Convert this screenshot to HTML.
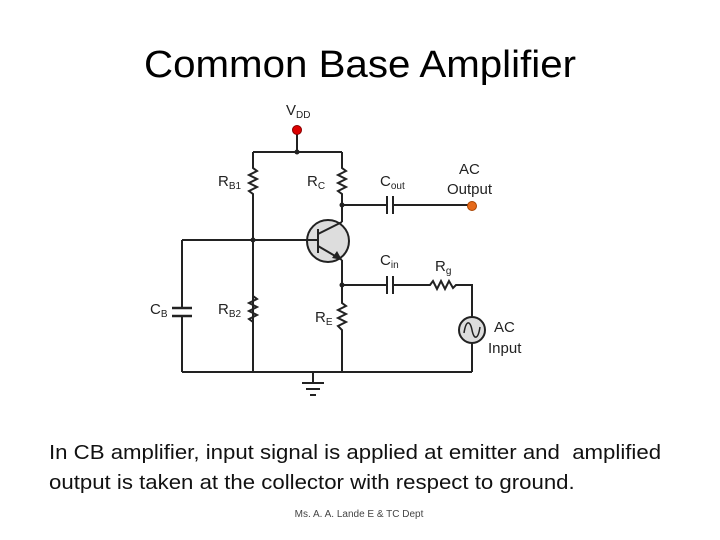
<!DOCTYPE html>
<html><head><style>
body{margin:0;width:720px;height:540px;background:#fff;position:relative;overflow:hidden;font-family:"Liberation Sans",sans-serif}
.t{position:absolute;white-space:nowrap;color:#000}
</style></head><body>
<div class="t" style="left:0;width:720px;text-align:center;top:44px;font-size:38px;transform:scaleX(1.06);transform-origin:360px 0">Common Base Amplifier</div>
<svg width="720" height="540" style="position:absolute;left:0;top:0" font-family="Liberation Sans, sans-serif">
<g stroke="#222" stroke-width="2" fill="none">
<line x1="297" y1="130" x2="297" y2="152"/>
<line x1="253" y1="152" x2="342" y2="152"/>
<polyline points="253,152 253,168 257,171 249,175 257,179 249,183 257,187 249,191 253,194 253,372"/>
<polyline points="342,152 342,168 346,171 338,175 346,179 338,183 346,187 338,191 342,194 342,222"/>
<line x1="182" y1="240" x2="312" y2="240"/>
<line x1="182" y1="240" x2="182" y2="308"/>
<line x1="182" y1="316" x2="182" y2="372"/>
<line x1="172" y1="308" x2="192" y2="308" stroke-width="2.5"/>
<line x1="172" y1="316" x2="192" y2="316" stroke-width="2.5"/>
<polyline points="253,240 253,296 257,299 249,303 257,307 249,311 257,315 249,319 253,322"/>
<line x1="182" y1="372" x2="472" y2="372"/>
<line x1="342" y1="205" x2="387" y2="205"/>
<line x1="393" y1="205" x2="472" y2="205"/>
<line x1="387" y1="196" x2="387" y2="214"/><line x1="393" y1="196" x2="393" y2="214"/>
<polyline points="342,260 342,303 346,306 338,310 346,314 338,318 346,322 338,326 342,330 342,372"/>
<line x1="342" y1="285" x2="387" y2="285"/>
<line x1="387" y1="276" x2="387" y2="294"/><line x1="393" y1="276" x2="393" y2="294"/>
<polyline points="393,285 430,285 433,281 437,289 441,281 445,289 449,281 453,288 456,285 472,285 472,317"/>
<line x1="472" y1="343" x2="472" y2="372"/>
<line x1="313" y1="372" x2="313" y2="383"/>
<line x1="302" y1="383" x2="324" y2="383"/>
<line x1="306" y1="389" x2="320" y2="389"/>
<line x1="310" y1="395" x2="316" y2="395"/>
</g>
<circle cx="328" cy="241" r="21" fill="#ddd" stroke="#222" stroke-width="2"/>
<g stroke="#222" stroke-width="2">
<line x1="318" y1="229" x2="318" y2="253"/>
<line x1="307" y1="240" x2="318" y2="240"/>
<line x1="318" y1="234" x2="342" y2="222"/>
<line x1="318" y1="246" x2="342" y2="260"/>
</g>
<polygon points="342,260 332,258 337,251" fill="#222"/>
<circle cx="472" cy="330" r="13" fill="#ddd" stroke="#222" stroke-width="2"/>
<path d="M464,333 C466,320 470,320 472,330 C474,340 478,340 480,327" stroke="#222" stroke-width="1.5" fill="none"/>
<g fill="#222"><circle cx="297" cy="152" r="2.5"/><circle cx="253" cy="240" r="2.5"/><circle cx="342" cy="205" r="2.5"/><circle cx="342" cy="285" r="2.5"/></g>
<circle cx="297" cy="130" r="4.5" fill="#d00" stroke="#800"/>
<circle cx="472" cy="206" r="4.5" fill="#e66a1a" stroke="#a40"/>
<g font-size="15" fill="#222">
<text x="286" y="115">V<tspan font-size="10" dy="3">DD</tspan></text>
<text x="218" y="186">R<tspan font-size="10" dy="3">B1</tspan></text>
<text x="307" y="186">R<tspan font-size="10" dy="3">C</tspan></text>
<text x="380" y="186">C<tspan font-size="10" dy="3">out</tspan></text>
<text x="459" y="174">AC</text>
<text x="447" y="194">Output</text>
<text x="380" y="265">C<tspan font-size="10" dy="3">in</tspan></text>
<text x="435" y="271">R<tspan font-size="10" dy="3">g</tspan></text>
<text x="150" y="314">C<tspan font-size="10" dy="3">B</tspan></text>
<text x="218" y="314">R<tspan font-size="10" dy="3">B2</tspan></text>
<text x="315" y="322">R<tspan font-size="10" dy="3">E</tspan></text>
<text x="494" y="332">AC</text>
<text x="488" y="353">Input</text>
</g>
</svg>
<div class="t" style="left:49px;top:438px;font-size:20px;line-height:30px;color:#111;transform:scaleX(1.11);transform-origin:0 0">In CB amplifier, input signal is applied at emitter and&nbsp; amplified<br>output is taken at the collector with respect to ground.</div>
<div class="t" style="left:0;width:718px;text-align:center;top:509px;font-size:10px;color:#444">Ms. A. A. Lande E &amp; TC Dept</div>
</body></html>
